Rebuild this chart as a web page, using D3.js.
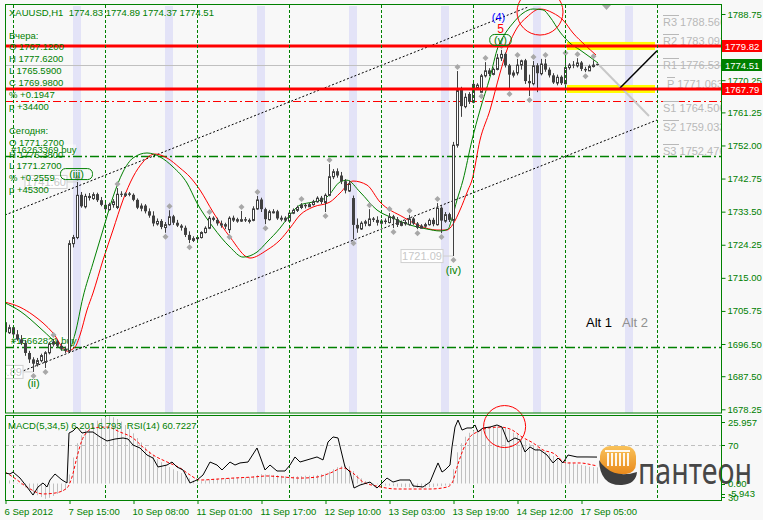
<!DOCTYPE html>
<html><head><meta charset="utf-8">
<script src="https://cdn.jsdelivr.net/npm/d3@7"></script>
<style>
body{margin:0;background:#f8f8f8}
svg{display:block}
text{font-family:"Liberation Sans",Arial,sans-serif}
</style></head>
<body><svg id="c" width="763" height="520"></svg>
<script>
// ---------------- DATA ----------------
const headerText = "XAUUSD,H1  1774.83 1774.89 1774.37 1774.51";
const yesterdayLines = ["Вчера:", "O 1767.1200", "H 1777.6200", "L 1765.5900", "C 1769.9800", "% +0.1947", "p +34400"];
const todayLines = ["Сегодня:", "O 1771.2700", "H 1776.3800", "L 1771.2700", "% +0.2559", "p +45300"];

// hourly candles, bar index 1..149
const open = [1702.6,1699.8,1701.2,1699.2,1697.8,1696.8,1694.0,1692.2,1691.0,1692.0,1691.5,1694.2,1696.6,1697.2,1696.0,1695.2,
1694.6,1724.7,1726.4,1738.2,1735.0,1737.9,1737.3,1738.4,1736.7,1735.4,1734.2,1735.6,1734.8,1738.5,1738.2,1738.6,1738.2,1736.8,1734.6,1735.2,
1733.6,1732.4,1730.2,1730.9,1729.2,1730.0,1732.2,1730.4,1729.6,1729.0,1727.0,1725.6,1726.1,1726.4,1727.8,1729.0,1731.8,1731.2,1730.2,1729.6,
1728.6,1731.8,1731.0,1731.0,1731.4,1731.0,1731.2,1734.4,1736.9,1734.2,1731.4,1733.6,1733.6,1731.6,1731.8,1731.0,1733.2,1734.0,1734.8,1735.4,
1735.0,1735.6,1736.4,1737.4,1736.2,1738.2,1743.4,1744.8,1743.6,1742.0,1739.4,1737.3,1729.8,1728.8,1730.4,1729.8,1731.6,1731.2,1730.4,1731.0,
1730.6,1732.2,1731.4,1729.8,1730.6,1730.0,1731.6,1730.2,1729.0,1729.6,1730.0,1731.2,1730.0,1734.6,1731.0,1732.8,1731.2,1752.2,1767.5,1763.0,
1766.4,1764.2,1768.2,1767.0,1771.6,1773.0,1772.0,1773.4,1776.6,1777.6,1774.4,1771.8,1772.4,1774.6,1775.8,1770.0,1769.4,1774.4,1772.2,1774.9,
1773.2,1771.6,1769.6,1771.2,1769.4,1773.9,1774.6,1774.4,1775.2,1773.4,1773.0,1774.2,1774.83];
const high = [1703.2,1701.9,1701.6,1700.4,1699.0,1697.6,1694.6,1692.8,1692.6,1693.8,1694.5,1697.0,1697.9,1697.6,1696.8,1695.8,
1725.5,1727.0,1741.8,1739.0,1738.5,1738.7,1738.9,1738.8,1737.6,1736.2,1736.0,1737.0,1740.1,1739.2,1738.9,1739.0,1738.6,1737.2,1735.8,1735.6,
1734.4,1733.6,1731.6,1731.4,1730.6,1733.9,1732.6,1731.2,1730.0,1729.6,1728.0,1726.6,1726.8,1728.0,1729.4,1732.3,1732.2,1731.8,1731.0,1730.4,
1732.2,1732.4,1731.8,1733.7,1732.0,1731.6,1735.0,1737.9,1737.4,1734.6,1734.0,1734.2,1734.0,1732.4,1732.2,1733.6,1734.4,1735.2,1735.9,1735.8,
1736.0,1736.8,1737.8,1737.9,1738.6,1746.8,1745.4,1745.6,1744.6,1742.6,1742.2,1738.0,1731.6,1730.8,1731.2,1734.2,1732.0,1732.2,1731.4,1731.6,
1733.1,1732.6,1732.0,1731.0,1731.2,1732.6,1732.0,1730.6,1730.0,1730.4,1731.6,1731.8,1735.9,1735.0,1733.4,1733.2,1753.0,1772.8,1768.4,1766.6,
1766.9,1769.6,1769.4,1772.0,1775.3,1773.6,1773.8,1777.6,1778.7,1778.0,1774.8,1773.0,1776.2,1776.0,1776.2,1771.8,1775.6,1775.0,1776.2,1776.2,
1773.8,1772.2,1771.8,1771.6,1776.7,1775.0,1775.6,1776.4,1775.6,1774.0,1774.6,1775.8,1774.89];
const low = [1699.2,1699.3,1698.6,1697.4,1696.2,1693.2,1691.2,1688.7,1690.2,1691.4,1689.8,1693.6,1695.8,1695.4,1694.6,1694.0,
1694.2,1723.5,1725.8,1734.6,1734.4,1736.6,1736.8,1736.2,1735.0,1733.6,1733.8,1734.6,1734.2,1737.6,1737.6,1737.8,1736.4,1734.2,1733.6,1733.0,
1731.8,1729.4,1729.6,1728.6,1727.6,1729.6,1729.8,1729.2,1728.2,1726.4,1724.7,1725.0,1725.4,1726.0,1727.4,1728.6,1730.8,1729.6,1729.0,1728.6,
1727.5,1730.6,1730.4,1730.6,1730.6,1730.2,1730.8,1734.0,1733.4,1730.0,1731.0,1733.0,1731.2,1730.8,1730.6,1730.8,1732.8,1733.4,1734.2,1734.4,
1734.8,1735.2,1736.0,1735.6,1733.4,1737.8,1742.6,1743.0,1741.2,1738.6,1739.0,1725.8,1727.6,1728.4,1729.4,1729.4,1730.6,1729.6,1729.8,1730.0,
1730.2,1728.9,1729.2,1729.4,1729.6,1729.6,1729.8,1728.6,1728.8,1729.0,1729.6,1729.4,1729.6,1727.5,1730.4,1730.6,1721.09,1751.4,1760.0,1762.4,
1763.6,1763.8,1767.6,1766.9,1771.0,1771.4,1771.6,1773.0,1775.6,1773.8,1767.5,1771.0,1771.6,1773.2,1769.2,1765.8,1768.8,1766.9,1771.6,1772.6,
1771.0,1769.2,1768.8,1768.9,1769.0,1773.2,1773.6,1773.8,1772.8,1772.5,1772.8,1773.8,1774.37];
const close = [1699.8,1701.2,1699.2,1697.8,1696.8,1694.0,1692.2,1691.0,1692.0,1693.4,1694.2,1696.6,1697.2,1696.0,1695.2,1694.6,
1724.7,1726.4,1738.2,1735.0,1737.9,1737.3,1738.4,1736.7,1735.4,1734.2,1735.6,1736.4,1738.5,1738.2,1738.6,1738.2,1736.8,1734.6,1735.2,1733.6,
1732.4,1730.2,1730.9,1729.2,1730.0,1732.2,1730.4,1729.6,1729.0,1727.0,1725.6,1726.1,1726.4,1727.8,1729.0,1731.8,1731.2,1730.2,1729.6,1730.0,
1731.8,1731.0,1731.4,1731.4,1731.0,1731.2,1734.4,1736.9,1734.2,1731.4,1733.6,1733.6,1731.6,1731.8,1731.0,1733.2,1734.0,1734.8,1735.4,1735.0,
1735.6,1736.4,1737.4,1736.2,1738.2,1743.4,1744.8,1743.6,1742.0,1739.4,1741.4,1729.8,1728.8,1730.4,1730.8,1731.6,1731.2,1730.4,1731.0,1730.6,
1732.2,1731.4,1729.8,1730.6,1730.0,1731.6,1730.2,1729.0,1729.6,1730.0,1731.2,1730.0,1734.6,1731.0,1732.8,1731.2,1752.2,1767.5,1763.0,1765.6,
1764.2,1769.2,1769.0,1771.6,1773.0,1772.0,1773.4,1776.6,1777.6,1774.4,1771.8,1772.4,1774.6,1775.8,1770.0,1769.4,1774.4,1772.2,1774.9,1773.2,
1771.6,1769.6,1771.2,1769.4,1773.9,1774.6,1774.4,1775.2,1773.4,1773.0,1774.2,1774.6,1774.51];

const fractalUpBars = [13,19,29,42,52,60,64,75,82,92,97,102,109,114,121,125,129,133,136,141,144,148];
const fractalDownBars = [8,11,41,47,57,66,81,88,98,104,110,113,120,127,132,146];

// moving averages: [bar, price]
const maGreen = [[1,1708.0],[4.75,1705.7],[9.75,1701.0],[13,1697.6],[15.5,1694.8],[17.25,1695.4],[18.5,1699.3],[20.5,1709.6],
[23,1719.1],[25.5,1728.4],[28,1737.6],[30.5,1744.6],[33,1748.5],[36.5,1749.9],[39.75,1748.8],[43,1746.0],[46.5,1741.5],[49,1735.9],
[53,1729.2],[57.25,1723.6],[60.5,1720.8],[64,1722.2],[66.5,1725.0],[69.75,1728.9],[72.25,1732.6],[74.75,1735.35],[78,1736.2],[81.5,1737.6],
[84.75,1741.8],[86.5,1742.3],[89.75,1739.0],[94,1733.95],[98,1731.7],[102.25,1729.76],[106.5,1728.64],[109.75,1728.1],[111.75,1728.6],
[112.75,1731.7],[114,1736.75],[115.5,1742.3],[117.75,1753.5],[119.75,1761.9],[122.25,1771.1],[124.25,1779.5],[125.5,1782.3],[128,1786.2],
[130.5,1789.0],[133,1790.15],[135.5,1789.9],[137.25,1787.9],[139.75,1783.7],[142.25,1780.6],[144.75,1778.7],[147.25,1776.7],[149.25,1775.05]];
const maRed = [[1,1708.2],[4.75,1706.8],[8,1704.6],[13,1699.6],[16.5,1694.5],[18.5,1695.65],[19.75,1699.0],[21.5,1706.0],
[23,1710.75],[25.5,1719.97],[28,1728.36],[30.5,1736.75],[33,1743.18],[35.5,1747.37],[38.5,1749.61],[41.5,1748.5],[44.75,1745.7],[47.25,1743.18],
[49.75,1739.54],[53,1733.39],[57.25,1726.4],[62.25,1720.53],[66.5,1722.77],[69.75,1725.56],[72.25,1728.92],[74.75,1732.55],[78,1734.79],
[82.25,1736.19],[84.75,1738.7],[88,1742.06],[91.5,1740.94],[94.75,1736.19],[100.5,1732.0],[104.75,1729.5],[109,1728.36],[111.5,1728.36],
[113,1730.0],[114.75,1733.95],[116.75,1739.54],[117.75,1742.34],[119.75,1753.52],[122.25,1761.91],[124.75,1772.25],[126.75,1779.52],
[129,1784.84],[131.5,1787.91],[134.75,1790.15],[138,1789.03],[140.5,1787.07],[143,1783.44],[146,1780.08],[148.75,1777.29]];

// indicator window
const macdHist = [1.5,1.2,0.8,0.2,-0.5,-1.5,-2.5,-3.5,-4.5,-5.2,-5.9,-5.5,-4.8,-4.0,-3.2,-2.5,
3.5,10,15.5,18.5,20.5,22.0,23.2,24.2,25.0,25.6,25.96,
25.5,24.8,23.8,22.5,21.0,19.3,17.5,15.8,14.0,12.4,10.8,9.4,8.2,7.0,6.3,5.5,4.8,4.0,3.0,2.0,1.2,0.8,
0.9,1.2,1.6,1.8,1.9,2.0,2.0,2.1,2.2,2.2,2.3,2.4,2.5,2.8,3.3,3.6,3.5,3.4,3.3,3.2,3.0,2.8,2.7,2.7,2.8,2.9,3.0,3.0,3.1,3.3,3.6,3.8,
4.6,5.5,6.3,6.8,6.9,6.6,4.8,3.2,2.0,1.0,0.5,0.1,-0.3,-0.6,-0.8,-0.8,-1.0,-1.2,-1.3,-1.4,-1.4,-1.5,-1.6,-1.6,-1.5,-1.4,-1.3,-1.0,-1.0,-0.8,-0.6,
5.5,12.0,15.5,18.0,19.5,20.4,20.8,21.2,21.5,21.6,21.6,21.8,21.9,21.5,20.6,19.6,18.8,17.9,16.6,15.4,14.6,13.8,13.0,12.3,11.5,10.6,9.8,9.0,8.6,8.2,7.8,7.4,7.1,6.8,6.5,6.3,6.2];
const macdSignal = [[1,4.4],[3,2.5],[6.5,-1.35],[10.5,-4.0],[13.5,-3.65],[16.5,-1.7],[17.75,2.5],[19,10.2],[20.25,16.7],[21.5,19.8],
[23,21.3],[26.5,21.7],[29.75,19.8],[33,17.5],[35.5,14.0],[38,11.0],[41.5,8.3],[44.75,6.0],[47.25,3.3],[49.75,1.35],[54,1.7],[58,2.1],
[63,2.5],[66.5,2.9],[70.5,2.5],[74.75,2.1],[79,2.5],[82.25,4.0],[85.5,6.0],[88,4.0],[90.5,0.6],[94,-1.0],[99,-2.1],[103,-2.1],[107.25,-2.1],
[111.5,-1.35],[112.75,0.2],[114,6.3],[115.5,12.9],[117.25,17.9],[119,19.8],[121.5,21.3],[124.75,21.7],[127.75,20.6],[130.25,17.9],
[133,15.6],[135.5,12.9],[138,11.7],[141.5,7.9],[144.75,7.9],[148,7.1],[149,6.79]];
const rsi = [[1,48.5],[2.25,47.7],[3,49.2],[4.75,44.6],[6.5,37.7],[8,31.5],[9.25,37.7],[10.5,40.8],[11.5,37.7],[12.25,43.1],[13.5,47.7],
[15.25,43.1],[16.5,40.8],[17,79.2],[18,80.8],[19,83.8],[20.25,79.2],[21.5,80.0],[23,80.0],[24.75,76.2],[26.5,73.1],[28.5,74.6],[30.5,75.4],
[31.75,74.6],[33,70.0],[34.75,67.7],[36.5,62.3],[38,60.0],[39.25,53.1],[41.5,54.6],[42.75,56.9],[44,53.1],[45.5,50.8],[47.25,40.8],[49,43.1],
[50.5,46.9],[52.25,56.9],[54,54.6],[55.25,50.8],[57.25,56.9],[58.5,54.6],[59.75,56.2],[61.75,56.9],[64,67.7],[66,50.8],[67.25,54.6],[69,50.0],
[71,50.0],[72.25,54.6],[73.5,60.8],[74.75,56.9],[76.5,58.5],[79,60.8],[80.5,58.5],[81.75,72.3],[83,76.2],[84.25,75.4],[86,53.1],[87.25,49.2],
[88.25,36.9],[89.75,39.2],[92.25,41.5],[94,36.9],[94.75,39.2],[96.5,44.6],[98,41.5],[99.75,43.1],[102.25,43.1],[103,38.5],[105.5,37.7],
[107.25,41.5],[108.5,50.8],[109.25,56.2],[110.25,49.2],[111,50.8],[112.25,54.6],[112.75,68.5],[113.5,83.8],[114.25,89.2],[115.25,81.5],
[116.5,83.1],[117.75,83.1],[118.5,85.4],[119.25,80.0],[120.5,83.1],[122.25,83.8],[124,85.4],[125.25,83.8],[126.75,72.3],[128.5,75.4],
[129.75,73.8],[131,64.6],[132.25,68.5],[133.5,66.2],[134.75,66.2],[136.5,62.3],[138,56.2],[139.25,60.0],[140.5,56.2],[141.75,62.3],
[144,60.8],[146.5,60.8],[149,60.72]];
const indicatorLabel = "MACD(5,34,5) 6.201 6.793  RSI(14) 60.7227";

// axes
const priceTicks = [1788.75,1779.50,1770.25,1761.25,1752.00,1742.75,1733.50,1724.25,1715.00,1705.75,1696.50,1687.50,1678.25];
const hiddenPriceLabels = [1779.50];
const timeTickBars = [1,17,33,49,65,81,97,113,129,145];
const timeLabels = ["6 Sep 2012","7 Sep 15:00","10 Sep 08:00","11 Sep 01:00","11 Sep 17:00","12 Sep 10:00","13 Sep 03:00","13 Sep 19:00","14 Sep 12:00","17 Sep 05:00"];
const separatorBars = [3,26,49,72,95,118,141,164];
const sessionBandBars = [18,41,64,87,110,133,156];

// levels
const levelRed = [1779.82, 1767.79];
const bidPrice = 1774.51;
const stopLevel = 1764.51;
const orders = [{id:"#16263369 buy", price:1749.05}, {id:"#15662821 buy", price:1695.79}];
const pivots = [["R3",1788.566],["R2",1783.093],["R1",1776.536],["P",1771.063],["S1",1764.506],["S2",1759.033],["S3",1752.476]];
const channelUpper = [[1,1732.55],[131.75,1790.7]];
const channelLower = [[1,1686.99],[164,1759.11]];
const alt1Line = [[154.75,1768.06],[164,1778.49]];
const alt2Line = [[149.5,1774.49],[162,1760.23]];
const waveLabels = [
  {t:"(4)", bar:124.25, p:1787.9, c:"#0000ff", box:false},
  {t:"5", bar:124.75, p:1784.5, c:"#ff0000", box:false},
  {t:"(v)", bar:124.75, p:1781.5, c:"#008000", box:true},
  {t:"(iii)", bar:18.75, p:1744.0, c:"#008000", box:true},
  {t:"(ii)", bar:8, p:1685.6, c:"#008000", box:false},
  {t:"(iv)", bar:113, p:1717.2, c:"#008000", box:false}];
const priceNotes = [{t:"1741.60", bar:19, p:1741.8}, {t:"1721.09", bar:113, p:1721.09}, {t:"1688.89", bar:8, p:1688.7}];

// ---------------- DRAW ----------------
const svg = d3.select("#c");
const G = "#008000";
const L = 5, R = 721, MT = 5, MB = 413, ST = 415, SB = 500;
const x = d3.scaleLinear().domain([0,180]).range([1,721]);
const y = d3.scaleLinear().domain([1678.25,1788.75]).range([409.3,14]);
const yM = d3.scaleLinear().domain([-5.943,25.957]).range([499,416]);
const yR = d3.scaleLinear().domain([30,70]).range([497,445]);
const bars = open.map((o,i)=>({k:i+1,o,h:high[i],l:low[i],c:close[i]}));

svg.append("rect").attr("width",763).attr("height",520).attr("fill","#f8f8f8");
const defs = svg.append("defs");
defs.append("clipPath").attr("id","mainclip").append("rect").attr("x",L+1).attr("y",MT+1).attr("width",R-L-1).attr("height",MB-MT-1);
defs.append("clipPath").attr("id","subclip").append("rect").attr("x",L+1).attr("y",ST+1).attr("width",R-L-1).attr("height",SB-ST-1);

const main = svg.append("g").attr("clip-path","url(#mainclip)");
// session bands
main.selectAll(".band").data(sessionBandBars).join("rect")
  .attr("x",d=>x(d)).attr("width",d=>x(d+2)-x(d)).attr("y",MT).attr("height",MB-MT).attr("fill","#e3e3f7");
// separators (both windows)
svg.append("g").selectAll("line").data(separatorBars).join("line")
  .attr("x1",d=>x(d)+0.5).attr("x2",d=>x(d)+0.5).attr("y1",MT).attr("y2",SB)
  .attr("stroke",G).attr("stroke-dasharray","3,2");
svg.append("line").attr("x1",L).attr("x2",R).attr("y1",MB+1.5).attr("y2",MB+1.5).attr("stroke","#f8f8f8").attr("stroke-width",2);

// text block
const tb = svg.append("g").attr("fill",G).style("font-size","9.5px");
tb.append("text").attr("x",9).attr("y",16).text(headerText).attr("xml:space","preserve");
yesterdayLines.forEach((t,i)=>tb.append("text").attr("x",9).attr("y",38.5+i*11.9).text(t));
todayLines.forEach((t,i)=>tb.append("text").attr("x",9).attr("y",133.7+i*11.9).text(t));

// horizontal lines
main.append("line").attr("x1",L).attr("x2",R).attr("y1",Math.round(y(bidPrice))+0.5).attr("y2",Math.round(y(bidPrice))+0.5).attr("stroke","#c0c0c0");
main.append("line").attr("x1",L).attr("x2",R).attr("y1",Math.round(y(stopLevel))+0.5).attr("y2",Math.round(y(stopLevel))+0.5)
  .attr("stroke","#ff0000").attr("stroke-dasharray","8,3,2,3");
orders.forEach(o=>{
  const yy = Math.round(y(o.price))+0.5;
  main.append("line").attr("x1",L).attr("x2",R).attr("y1",yy).attr("y2",yy).attr("stroke",G).attr("stroke-width",1.5).attr("stroke-dasharray","9,3,2,3");
  main.append("rect").attr("x",10).attr("y",yy-12).attr("width",66).attr("height",10).attr("fill","#ffffff").attr("opacity",0.5);
  main.append("text").attr("x",11).attr("y",yy-3.5).attr("fill",G).style("font-size","9.5px").text(o.id);
});

// yellow bands at levels
levelRed.forEach(v=>{
  main.append("rect").attr("x",x(141.5)).attr("width",x(163.5)-x(141.5)).attr("y",y(v)-4).attr("height",8).attr("fill","#ffff00");
});

// channel lines
const lineGen = d3.line().x(d=>x(d[0])).y(d=>y(d[1]));
[channelUpper, channelLower].forEach(c=>main.append("path").attr("d",lineGen(c)).attr("fill","none").attr("stroke","#000").attr("stroke-dasharray","2,2"));
main.append("path").attr("d",lineGen(alt2Line)).attr("stroke","#c8c8c8").attr("stroke-width",2).attr("fill","none");
main.append("path").attr("d",lineGen(alt1Line)).attr("stroke","#000").attr("stroke-width",1.5).attr("fill","none");

// moving averages
const curve = d3.line().x(d=>x(d[0])).y(d=>y(d[1])).curve(d3.curveMonotoneX);
main.append("path").attr("d",curve(maRed)).attr("fill","none").attr("stroke","#ff0000");
main.append("path").attr("d",curve(maGreen)).attr("fill","none").attr("stroke","#008000");

// candles
const cg = main.append("g");
const CC = "#404040";
cg.selectAll(".w").data(bars).join("line")
  .attr("x1",d=>x(d.k)+0.5).attr("x2",d=>x(d.k)+0.5).attr("y1",d=>y(d.h)).attr("y2",d=>y(d.l)).attr("stroke",CC);
cg.selectAll(".b").data(bars).join("rect")
  .attr("x",d=>d.c>=d.o ? x(d.k)-0.5 : x(d.k)-1)
  .attr("width",d=>d.c>=d.o ? 2 : 3)
  .attr("y",d=>d.c>=d.o ? y(Math.max(d.o,d.c))+0.5 : y(Math.max(d.o,d.c)))
  .attr("height",d=>Math.max(1, Math.abs(y(d.o)-y(d.c))))
  .attr("fill",d=>d.c>=d.o ? "#ffffff" : CC)
  .attr("stroke",d=>d.c>=d.o ? CC : "none");

// fractals
const diamond = (cx,cy)=>`M${cx},${cy-3}L${cx+3},${cy}L${cx},${cy+3}L${cx-3},${cy}Z`;
fractalUpBars.forEach(k=>{
  const b = bars[k-1], cx = x(k)+0.5, cy = y(b.h)-4;
  main.append("path").attr("d",diamond(cx,cy)).attr("fill","#a8a8a8");
});
fractalDownBars.forEach(k=>{
  const b = bars[k-1], cx = x(k)+0.5, cy = y(b.l)+4;
  main.append("path").attr("d",diamond(cx,cy)).attr("fill","#a8a8a8");
});

// price notes
priceNotes.forEach(n=>{
  const cx = x(n.bar), cy = y(n.p);
  const bx = cx - 52;
  main.append("line").attr("x1",bx+42).attr("x2",cx).attr("y1",cy).attr("y2",cy).attr("stroke","#d0d0d0");
  main.append("rect").attr("x",bx).attr("y",cy-6.5).attr("width",42).attr("height",13).attr("fill","#ffffff").attr("stroke","#d0d0d0");
  main.append("text").attr("x",bx+21).attr("y",cy+4).attr("text-anchor","middle").attr("fill","#c8c8c8").style("font-size","11px").text(n.t);
});

// wave labels
waveLabels.forEach(w=>{
  const cx = x(w.bar)+0.5, cy = y(w.p);
  if (w.box) svg.append("rect").attr("x",cx-w.t.length*2.6-3).attr("y",cy-5.5).attr("width",w.t.length*5.2+6).attr("height",11)
     .attr("rx",5).attr("fill","none").attr("stroke",G);
  svg.append("text").attr("x",cx).attr("y",cy+4).attr("text-anchor","middle").attr("fill",w.c)
     .style("font-size", w.t==="5" ? "12px" : "11px").text(w.t);
});

// pivots
pivots.forEach(([n,v])=>{
  const yy = Math.round(y(v))+0.5;
  const x0 = n==="P" ? 667 : 663;
  main.append("line").attr("x1",x0).attr("x2",x0+(n==="P"?8:16)).attr("y1",yy).attr("y2",yy).attr("stroke","#b8b8b8");
  main.append("text").attr("x",x0).attr("y",yy+10.5).attr("fill","#b8b8b8").style("font-size","11px").text(n+" "+v.toFixed(3));
});

// red thick lines
levelRed.forEach(v=>{
  main.append("line").attr("x1",L).attr("x2",R).attr("y1",y(v)).attr("y2",y(v)).attr("stroke","#ff0000").attr("stroke-width",3);
});

// Alt labels
svg.append("text").attr("x",586).attr("y",327).attr("fill","#000").style("font-size","13px").text("Alt 1");
svg.append("text").attr("x",622).attr("y",327).attr("fill","#909090").style("font-size","13px").text("Alt 2");

// chart shift marker
svg.append("path").attr("d","M602,5L611,5L606.5,10Z").attr("fill","#a8a8a8");

// ---- indicator window ----
const sub = svg.append("g").attr("clip-path","url(#subclip)");
sub.append("line").attr("x1",L).attr("x2",R).attr("y1",yR(70)+0.5).attr("y2",yR(70)+0.5).attr("stroke","#c0c0c0").attr("stroke-dasharray","4,3");
sub.selectAll(".h").data(macdHist).join("line")
  .attr("x1",(d,i)=>x(i+1)+0.5).attr("x2",(d,i)=>x(i+1)+0.5)
  .attr("y1",yM(0)).attr("y2",d=>yM(d)).attr("stroke","#c0c0c0");
sub.append("path").attr("d",d3.line().x(d=>x(d[0])).y(d=>yM(d[1])).curve(d3.curveMonotoneX)(macdSignal))
  .attr("fill","none").attr("stroke","#ff0000").attr("stroke-dasharray","3,2");
sub.append("path").attr("d",d3.line().x(d=>x(d[0])).y(d=>yR(d[1]))(rsi)).attr("fill","none").attr("stroke","#000");
svg.append("circle").attr("cx",x(125.9)).attr("cy",yM(21.9)).attr("r",21).attr("fill","none").attr("stroke","#ff0000");
svg.append("circle").attr("cx",x(134.75)).attr("cy",y(1789.3)).attr("r",23).attr("fill","none").attr("stroke","#ff0000");
svg.append("text").attr("x",8).attr("y",428.5).attr("fill",G).style("font-size","9.5px").attr("xml:space","preserve").text(indicatorLabel);

// logo
const grad = defs.append("linearGradient").attr("id","og").attr("x1",0).attr("y1",0).attr("x2",0).attr("y2",1);
grad.append("stop").attr("offset","0").attr("stop-color","#f9c25a");
grad.append("stop").attr("offset","1").attr("stop-color","#e98a1c");
const lg = svg.append("g");
lg.append("rect").attr("x",600).attr("y",446).attr("width",36).attr("height",28).attr("rx",10).attr("fill","url(#og)");
[607,611,615,619,623,627].forEach(cx=>lg.append("rect").attr("x",cx).attr("y",453).attr("width",2).attr("height",13).attr("fill","#fff").attr("opacity",0.9));
lg.append("rect").attr("x",605).attr("y",450).attr("width",25).attr("height",2).attr("fill","#fff").attr("opacity",0.9);
lg.append("path").attr("d","M599,460 Q600,486 622,485 Q636,484 637,472 Q618,478 606,468 Q601,464 599,460Z").attr("fill","#3e3e3e");
lg.append("text").attr("x",638).attr("y",483.5).attr("fill","#474747").style("font-family","'Noto Sans',sans-serif")
  .style("font-size","37px").attr("textLength",114).attr("lengthAdjust","spacingAndGlyphs").text("пантеон");

// frames
svg.append("rect").attr("x",L+0.5).attr("y",MT-0.5).attr("width",R-L).attr("height",MB-MT+0.5).attr("fill","none").attr("stroke",G);
svg.append("rect").attr("x",L+0.5).attr("y",ST+0.5).attr("width",R-L).attr("height",SB-ST).attr("fill","none").attr("stroke",G);

// price axis
const pa = svg.append("g").attr("transform",`translate(${R+0.5},0)`)
  .call(d3.axisRight(y).tickValues(priceTicks).tickSize(4).tickPadding(2)
    .tickFormat(d=>hiddenPriceLabels.includes(d) ? "" : d3.format(".2f")(d)));
pa.select(".domain").remove();
pa.selectAll("line").attr("stroke",G);
pa.selectAll("text").attr("fill",G).style("font-size","9.5px").style("font-family","'Liberation Sans',Arial,sans-serif");

// price tags
const tag = (v,fill)=>{
  const yy = Math.round(y(v));
  svg.append("rect").attr("x",R+1).attr("y",yy-6).attr("width",40).attr("height",12).attr("fill",fill);
  svg.append("text").attr("x",R+4).attr("y",yy+3.5).attr("fill","#fff").style("font-size","9.5px").text(v.toFixed(2));
};
tag(levelRed[0],"#ff0000"); tag(bidPrice,"#008000"); tag(levelRed[1],"#ff0000");

// indicator axis labels
const subLabels = [["25.957", 422],["70", yR(70)],["0.00", yM(0)],["-5.943", 493.5],["30", yR(30)]];
const sl = svg.append("g");
subLabels.forEach(([t,yy])=>{
  sl.append("line").attr("x1",R).attr("x2",R+4).attr("y1",Math.round(yy)+0.5).attr("y2",Math.round(yy)+0.5).attr("stroke",G);
  sl.append("text").attr("x",R+7).attr("y",yy+3.5).attr("fill",G).style("font-size","9.5px").text(t);
});

// time axis
const ta = svg.append("g").attr("transform",`translate(0,${SB})`)
  .call(d3.axisBottom(x).tickValues(timeTickBars).tickSize(4).tickFormat((d,i)=>timeLabels[i]));
ta.select(".domain").remove();
ta.selectAll("line").attr("stroke",G).attr("transform","translate(0.5,0)");
ta.selectAll("text").attr("fill",G).attr("text-anchor","start").attr("dx","-1").attr("y",8)
  .style("font-size","9.5px").style("font-family","'Liberation Sans',Arial,sans-serif");
</script></body></html>
